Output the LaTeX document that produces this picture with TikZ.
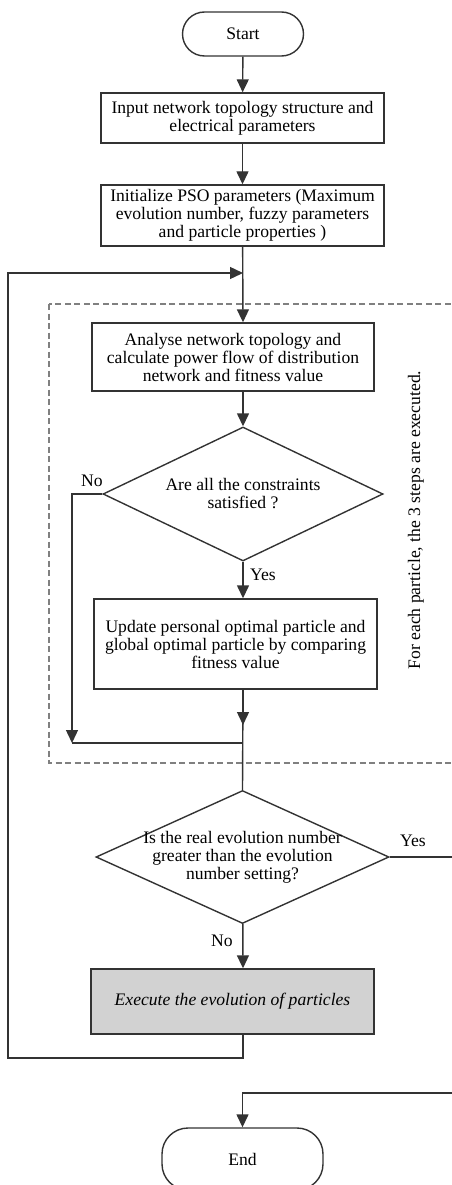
\documentclass[tikz,border=0pt]{standalone}
\usepackage{fontspec}
\setmainfont{Liberation Serif}
\usetikzlibrary{shapes.geometric,arrows.meta}
\tikzset{
  txt/.style={font=\fontsize{17.6}{18}\selectfont},
  line/.style={draw=black!80,line width=1.4pt},
  arr/.style={line,-{Triangle[length=13pt,width=12pt]}},
  process/.style={txt,line,rectangle,align=center,inner sep=0pt},
  decision/.style={txt,line,diamond,align=center,inner sep=-6pt,aspect=2.2},
  terminal/.style={txt,line,rectangle,rounded corners=22pt,inner sep=0pt}
}

\begin{document}
\begin{tikzpicture}[x=1pt,y=-1pt]
  \clip (0,0) rectangle (452,1185);
  \coordinate (axis) at (243,0);

  \draw[gray,line width=1.1pt,dash pattern=on 6pt off 3.5pt] (49,304) rectangle (470,763);

  \node[terminal,minimum width=121pt,minimum height=44pt] (start) at (243,34) {Start};
  \node[process,minimum width=283pt,minimum height=50pt] (input) at (242.5,118)
    {Input network topology structure and\\electrical parameters};
  \node[process,minimum width=283pt,minimum height=61pt] (init) at (242.5,215.5)
    {Initialize PSO parameters (Maximum\\evolution number, fuzzy parameters\\and particle properties )};
  \node[process,minimum width=282pt,minimum height=68pt] (flow) at (233,357)
    {Analyse network topology and\\calculate power flow of distribution\\network and fitness value};
  \node[decision,minimum width=280pt,minimum height=134pt] (cons) at (243,494)
    {Are all the constraints\\satisfied ?};
  \node[process,minimum width=283pt,minimum height=90pt] (best) at (235.5,644)
    {Update personal optimal particle and\\global optimal particle by comparing\\fitness value};
  \node[decision,minimum width=293pt,minimum height=133pt] (iter) at (242.5,857)
    {Is the real evolution number\\greater than the evolution\\number setting?};
  \node[process,fill=gray!35,minimum width=283pt,minimum height=65pt] (evol) at (232.5,1001.5)
    {\itshape Execute the evolution of particles};
  \node[terminal,rounded corners=26pt,minimum width=161pt,minimum height=62pt] (stop) at (242.5,1159) {End};

  \node[txt,rotate=90] (note) at (416,520) {For each particle, the 3 steps are executed.};
  \node[txt] (no1) at (92,481) {No};
  \node[txt] (yes1) at (263,575) {Yes};
  \node[txt] (yes2) at (413,841) {Yes};
  \node[txt] (no2) at (222,941) {No};

  \coordinate (loopA) at (8,1058);
  \coordinate (loopB) at (8,273);
  \coordinate (merge) at (243,273);
  \coordinate (skip) at (72,743);
  \coordinate (join) at (243,743);
  \coordinate (exitA) at (452,857);
  \coordinate (exitB) at (452,1093);

  \draw[arr] (start) -- (input);
  \draw[arr] (input) -- (init);
  \draw[arr] (init) -- (flow.north -| axis);
  \draw[arr] (flow.south -| axis) -- (cons);
  \draw[arr] (cons) -- (best.north -| axis);
  \draw[arr] (cons.west) -| (skip);
  \draw[line] (skip) -- (join);
  \draw[arr] (best.south -| axis) -- ([yshift=18pt]join);
  \draw[line] (best.south -| axis) -- (iter.north);
  \draw[line] (iter.east) -- (exitA);
  \draw[arr] (iter) -- (evol.north -| axis);
  \draw[arr] (evol.south -| axis) |- (loopA) -- (loopB) -- (merge);
  \draw[arr] (exitB) -| (stop.north);
\end{tikzpicture}
\end{document}
